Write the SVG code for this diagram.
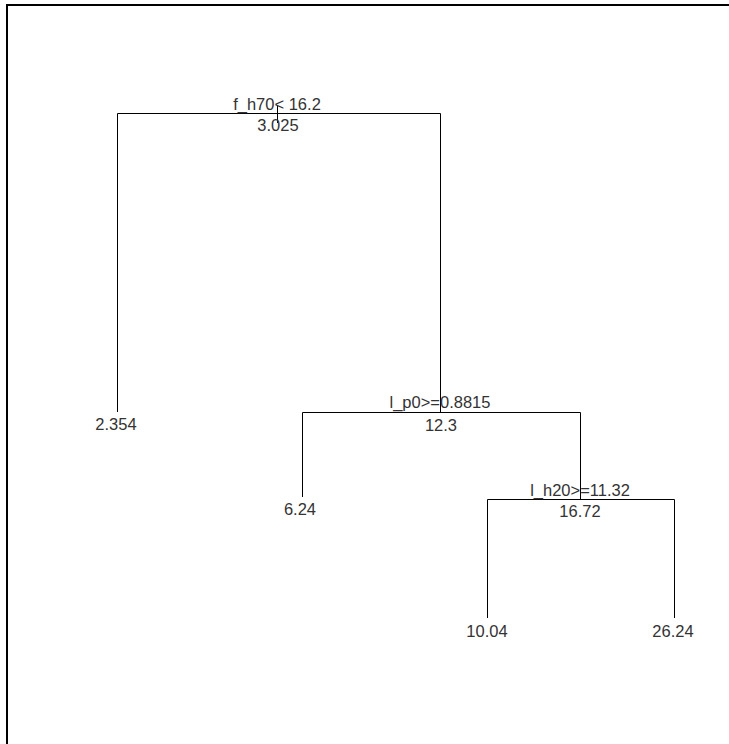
<svg xmlns="http://www.w3.org/2000/svg" width="729" height="744" viewBox="0 0 729 744">
<style>
.ln{stroke:#000;stroke-width:1;fill:none}
text{font-family:"Liberation Sans",Arial,sans-serif;font-size:16.5px;fill:#333;text-anchor:middle}
</style>
<rect x="0" y="0" width="729" height="744" fill="#fff"/>
<path d="M7,744 V5 H729" stroke="#000" stroke-width="2" fill="none"/>
<g id="connectors">
<path class="ln" d="M277.5,105 V123"/>
<path class="ln" d="M117.5,412 V113.5 H440.5 V412"/>
<path class="ln" d="M302.5,497 V412.5 H580.5 V499"/>
<path class="ln" d="M487.5,618 V499.5 H674.5 V618"/>
</g>
<g id="node1"><text x="277" y="110">f_h70&lt; 16.2</text><text x="278" y="131">3.025</text></g>
<g id="node2"><text x="116" y="430">2.354</text></g>
<g id="node3"><text x="440" y="408">l_p0&gt;=0.8815</text><text x="441" y="431">12.3</text></g>
<g id="node6"><text x="300" y="515">6.24</text></g>
<g id="node7"><text x="580" y="496">l_h20&gt;=11.32</text><text x="580" y="517">16.72</text></g>
<g id="node14"><text x="487" y="637">10.04</text></g>
<g id="node15"><text x="673" y="637">26.24</text></g>
</svg>
